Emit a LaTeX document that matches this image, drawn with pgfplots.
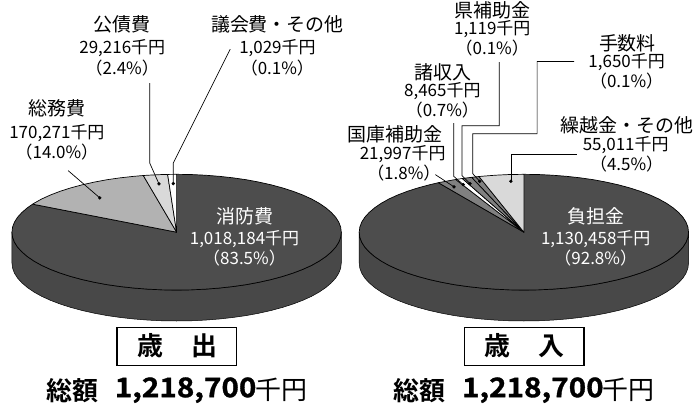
\documentclass[border=0pt]{standalone}
\usepackage{pgfplots}
\pgfplotsset{compat=1.18}
\usepackage{fontspec}
\setmainfont{Noto Sans CJK JP}
\newfontfamily\jpb{Noto Sans CJK JP Bold}
\newfontfamily\jpd[FakeStretch=1.1,FakeBold=1.2]{Noto Sans CJK JP Bold}
\definecolor{dk}{HTML}{4D4D4D}
\definecolor{rim}{HTML}{484848}
\definecolor{mg}{HTML}{808080}
\definecolor{sg}{HTML}{B2B2B2}
\definecolor{lg}{HTML}{D9D9D9}
\pgfplotsset{base/.style={scale only axis,width=693pt,height=410pt,hide axis,clip=false,ymin=-177.3,ymax=232.7},
 sl/.style={draw=black,line width=0.7pt,line join=round},
 ld/.style={black,line width=0.7pt,no markers},
 dots/.style={only marks,mark=*,mark size=1.5pt,black,mark options={draw=black,fill=black}}}
\newcommand{\A}[4][black]{\node[text=#1,font=\fontsize{19pt}{19pt}\selectfont,inner sep=0pt] at (axis cs:#2,#3) {#4};}
\newcommand{\B}[4][black]{\node[text=#1,font=\fontsize{17pt}{17pt}\selectfont,inner sep=0pt] at (axis cs:#2,#3) {#4};}
\begin{document}
\begin{tikzpicture}
% ------------- left pie
\begin{axis}[base,xmin=-177,xmax=516]
\addplot[fill=rim,draw=black,line width=0.5pt] coordinates {(-165,0)(-164.4,-5.1)(-162.5,-10.1)(-159.4,-15)(-155,-19.8)(-149.5,-24.5)(-142.9,-29)(-135.2,-33.3)(-126.4,-37.3)(-116.7,-41)(-106.1,-44.4)(-94.6,-47.5)(-82.5,-50.2)(-69.7,-52.6)(-56.4,-54.5)(-42.7,-56)(-28.7,-57.1)(-14.4,-57.8)(0,-58)(14.4,-57.8)(28.7,-57.1)(42.7,-56)(56.4,-54.5)(69.7,-52.6)(82.5,-50.2)(94.6,-47.5)(106.1,-44.4)(116.7,-41)(126.4,-37.3)(135.2,-33.3)(142.9,-29)(149.5,-24.5)(155,-19.8)(159.4,-15)(162.5,-10.1)(164.4,-5.1)(165,0)(165,-31)(164.4,-36.1)(162.5,-41.1)(159.4,-46)(155,-50.8)(149.5,-55.5)(142.9,-60)(135.2,-64.3)(126.4,-68.3)(116.7,-72)(106.1,-75.4)(94.6,-78.5)(82.5,-81.2)(69.7,-83.6)(56.4,-85.5)(42.7,-87)(28.7,-88.1)(14.4,-88.8)(0,-89)(-14.4,-88.8)(-28.7,-88.1)(-42.7,-87)(-56.4,-85.5)(-69.7,-83.6)(-82.5,-81.2)(-94.6,-78.5)(-106.1,-75.4)(-116.7,-72)(-126.4,-68.3)(-135.2,-64.3)(-142.9,-60)(-149.5,-55.5)(-155,-50.8)(-159.4,-46)(-162.5,-41.1)(-164.4,-36.1)(-165,-31)} -- cycle;
\addplot[fill=dk,sl] coordinates {(0,0)(0,58)(14.4,57.8)(28.7,57.1)(42.7,56)(56.4,54.5)(69.7,52.6)(82.5,50.2)(94.6,47.5)(106.1,44.4)(116.7,41)(126.4,37.3)(135.2,33.3)(142.9,29)(149.5,24.5)(155,19.8)(159.4,15)(162.5,10.1)(164.4,5.1)(165,0)(164.4,-5.1)(162.5,-10.1)(159.4,-15)(155,-19.8)(149.5,-24.5)(142.9,-29)(135.2,-33.3)(126.4,-37.3)(116.7,-41)(106.1,-44.4)(94.6,-47.5)(82.5,-50.2)(69.7,-52.6)(56.4,-54.5)(42.7,-56)(28.7,-57.1)(14.4,-57.8)(0,-58)(-14.4,-57.8)(-28.7,-57.1)(-42.7,-56)(-56.4,-54.5)(-69.7,-52.6)(-82.5,-50.2)(-94.6,-47.5)(-106.1,-44.4)(-116.7,-41)(-126.4,-37.3)(-135.2,-33.3)(-142.9,-29)(-149.5,-24.5)(-155,-19.8)(-159.4,-15)(-162.5,-10.1)(-164.4,-5.1)(-165,0)(-164.4,5.1)(-162.5,10.1)(-159.4,15)(-155,19.8)(-149.5,24.5)(-144.3,28.1)} -- cycle;
\addplot[fill=sg,sl] coordinates {(0,0)(-144.3,28.1)(-142.9,29)(-135.2,33.3)(-126.4,37.3)(-116.7,41)(-106.1,44.4)(-94.6,47.5)(-82.5,50.2)(-69.7,52.6)(-56.4,54.5)(-42.7,56)(-33.4,56.8)} -- cycle;
\addplot[fill=lg,sl] coordinates {(0,0)(-33.4,56.8)(-28.7,57.1)(-14.4,57.8)(-9,57.9)} -- cycle;
\addplot[fill=white,sl] coordinates {(0,0)(-9,57.9)(0,58)} -- cycle;
\addplot[ld] coordinates {(-108.7,61.7)(-77,34.4)};
\addplot[ld] coordinates {(-27,149.4)(-27,69.4)(-17.7,48.4)};
\addplot[ld] coordinates {(53.7,183.4)(-3.3,69.4)(-3.3,48.7)};
\addplot[dots] coordinates {(-77,34.4)(-17.7,48.4)(-3.3,48.7)};
\end{axis}
% ------------- right pie
\begin{axis}[base,xmin=-525,xmax=168]
\addplot[fill=rim,draw=black,line width=0.5pt] coordinates {(-165,0)(-164.4,-5.1)(-162.5,-10.1)(-159.4,-15)(-155,-19.8)(-149.5,-24.5)(-142.9,-29)(-135.2,-33.3)(-126.4,-37.3)(-116.7,-41)(-106.1,-44.4)(-94.6,-47.5)(-82.5,-50.2)(-69.7,-52.6)(-56.4,-54.5)(-42.7,-56)(-28.7,-57.1)(-14.4,-57.8)(0,-58)(14.4,-57.8)(28.7,-57.1)(42.7,-56)(56.4,-54.5)(69.7,-52.6)(82.5,-50.2)(94.6,-47.5)(106.1,-44.4)(116.7,-41)(126.4,-37.3)(135.2,-33.3)(142.9,-29)(149.5,-24.5)(155,-19.8)(159.4,-15)(162.5,-10.1)(164.4,-5.1)(165,0)(165,-31)(164.4,-36.1)(162.5,-41.1)(159.4,-46)(155,-50.8)(149.5,-55.5)(142.9,-60)(135.2,-64.3)(126.4,-68.3)(116.7,-72)(106.1,-75.4)(94.6,-78.5)(82.5,-81.2)(69.7,-83.6)(56.4,-85.5)(42.7,-87)(28.7,-88.1)(14.4,-88.8)(0,-89)(-14.4,-88.8)(-28.7,-88.1)(-42.7,-87)(-56.4,-85.5)(-69.7,-83.6)(-82.5,-81.2)(-94.6,-78.5)(-106.1,-75.4)(-116.7,-72)(-126.4,-68.3)(-135.2,-64.3)(-142.9,-60)(-149.5,-55.5)(-155,-50.8)(-159.4,-46)(-162.5,-41.1)(-164.4,-36.1)(-165,-31)} -- cycle;
\addplot[fill=dk,sl] coordinates {(0,0)(0,58)(14.4,57.8)(28.7,57.1)(42.7,56)(56.4,54.5)(69.7,52.6)(82.5,50.2)(94.6,47.5)(106.1,44.4)(116.7,41)(126.4,37.3)(135.2,33.3)(142.9,29)(149.5,24.5)(155,19.8)(159.4,15)(162.5,10.1)(164.4,5.1)(165,0)(164.4,-5.1)(162.5,-10.1)(159.4,-15)(155,-19.8)(149.5,-24.5)(142.9,-29)(135.2,-33.3)(126.4,-37.3)(116.7,-41)(106.1,-44.4)(94.6,-47.5)(82.5,-50.2)(69.7,-52.6)(56.4,-54.5)(42.7,-56)(28.7,-57.1)(14.4,-57.8)(0,-58)(-14.4,-57.8)(-28.7,-57.1)(-42.7,-56)(-56.4,-54.5)(-69.7,-52.6)(-82.5,-50.2)(-94.6,-47.5)(-106.1,-44.4)(-116.7,-41)(-126.4,-37.3)(-135.2,-33.3)(-142.9,-29)(-149.5,-24.5)(-155,-19.8)(-159.4,-15)(-162.5,-10.1)(-164.4,-5.1)(-165,0)(-164.4,5.1)(-162.5,10.1)(-159.4,15)(-155,19.8)(-149.5,24.5)(-142.9,29)(-135.2,33.3)(-126.4,37.3)(-116.7,41)(-106.1,44.4)(-94.6,47.5)(-85.7,49.6)} -- cycle;
\addplot[fill=mg,sl] coordinates {(0,0)(-85.7,49.6)(-82.5,50.2)(-69.7,52.6)(-68.3,52.8)} -- cycle;
\addplot[fill=white,sl] coordinates {(0,0)(-68.3,52.8)(-61.7,53.8)} -- cycle;
\addplot[fill=mg,sl] coordinates {(0,0)(-61.7,53.8)(-56.4,54.5)(-52.3,55)} -- cycle;
\addplot[fill=mg,sl] coordinates {(0,0)(-52.3,55)(-45,55.8)} -- cycle;
\addplot[fill=lg,sl] coordinates {(0,0)(-45,55.8)(-42.7,56)(-28.7,57.1)(-14.4,57.8)(0,58)} -- cycle;
\addplot[ld] coordinates {(-88.7,57.7)(-70,45.4)};
\addplot[ld] coordinates {(-70.3,109.4)(-70.3,56)(-60.7,47.7)};
\addplot[ld] coordinates {(-24.7,170.4)(-24.7,106.7)(-62,106.7)(-62,56.7)(-54,48.7)};
\addplot[ld] coordinates {(50.3,171)(13.3,171)(13.3,98.7)(-51.3,98.7)(-51.3,58.7)(-44.3,51)};
\addplot[ld] coordinates {(53,77.7)(-13,77.7)(-13,51)};
\addplot[dots] coordinates {(-70,45.4)(-60.7,47.7)(-54,48.7)(-44.3,51)(-13,51)};
\end{axis}
% ------------- text, in image pixels
\begin{axis}[scale only axis,width=693pt,height=410pt,hide axis,clip=false,xmin=0,xmax=693,ymin=0,ymax=410,y dir=reverse]
\addplot[draw=none,forget plot] coordinates {(0,0)(693,410)};
\A{122.5}{24}{公債費}
\B{122.5}{48}{29,216千円}
\B{122.5}{67.7}{（2.4\%）}
\A{278}{24}{議会費・その他}
\B{278}{48}{1,029千円}
\B{278}{68}{（0.1\%）}
\A{56.7}{109}{総務費}
\B{57}{133.3}{170,271千円}
\B{57}{152.3}{（14.0\%）}
\A[white]{245.5}{216.7}{消防費}
\B[white]{245}{240}{1,018,184千円}
\B[white]{245}{258.3}{（83.5\%）}
\A{493.3}{10.7}{県補助金}
\B{493.3}{29.3}{1,119千円}
\B{493.3}{48.3}{（0.1\%）}
\A{628.8}{43.3}{手数料}
\B{628}{62.7}{1,650千円}
\B{628}{81.7}{（0.1\%）}
\A{443.8}{72.3}{諸収入}
\B{443.3}{91.7}{8,465千円}
\B{443.3}{110.7}{（0.7\%）}
\A{395.8}{135}{国庫補助金}
\B{403.5}{154}{21,997千円}
\B{404.7}{173.3}{（1.8\%）}
\A{628}{125.7}{繰越金・その他}
\B{627}{145}{55,011千円}
\B{628}{164}{（4.5\%）}
\A[white]{597.5}{216.7}{負担金}
\B[white]{597}{240}{1,130,458千円}
\B[white]{597}{258.3}{（92.8\%）}
\addplot[draw=black,line width=1.2pt,fill=white] coordinates {(117.3,328.3)(237.3,328.3)(237.3,366.3)(117.3,366.3)} -- cycle;
\addplot[draw=black,line width=1.2pt,fill=white] coordinates {(465.3,328.3)(585.3,328.3)(585.3,366.3)(465.3,366.3)} -- cycle;
\newcommand{\C}[3]{\node[font=\fontsize{26pt}{26pt}\selectfont\jpb,inner sep=0pt] at (axis cs:#1,#2) {#3};}
\C{150.7}{346.7}{歳}
\C{205}{346.7}{出}
\C{499}{346.7}{歳}
\C{552.3}{346.7}{入}
\C{72.5}{391}{総額}
\C{420.5}{391}{総額}
\newcommand{\D}[3]{\node[font=\fontsize{27pt}{27pt}\selectfont\jpd,inner sep=0pt] at (axis cs:#1,#2) {#3};}
\D{186}{391}{1,218,700}
\D{534}{391}{1,218,700}
\node[font=\fontsize{26pt}{26pt}\selectfont,inner sep=0pt] at (axis cs:281.7,391) {千円};
\node[font=\fontsize{26pt}{26pt}\selectfont,inner sep=0pt] at (axis cs:630,391) {千円};
\end{axis}
\end{tikzpicture}
\end{document}
